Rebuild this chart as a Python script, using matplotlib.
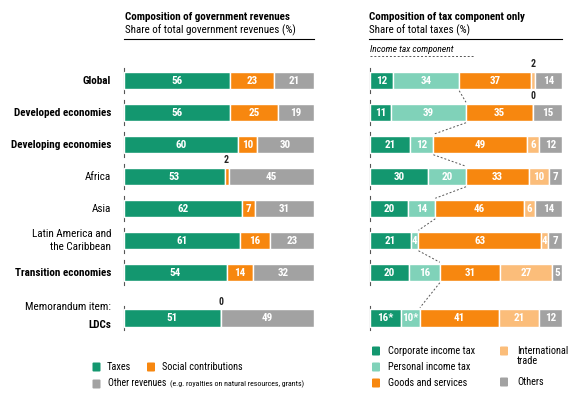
import matplotlib
matplotlib.use("Agg")
import matplotlib.pyplot as plt
from matplotlib.patches import FancyBboxPatch
import numpy as np

plt.rcParams['font.family'] = ['Roboto Condensed', 'Encode Sans Condensed', 'DejaVu Sans']

categories = ["Global", "Developed economies", "Developing economies", "Africa", "Asia",
              "Latin America and\nthe Caribbean", "Transition economies", "Memorandum item:\nLDCs"]
bold_cat = [True, True, True, False, False, False, True, None]

# Left panel: composition of government revenues
taxes = [56, 56, 60, 53, 62, 61, 54, 51]
social = [23, 25, 10, 2, 7, 16, 14, 0]
other_rev = [21, 19, 30, 45, 31, 23, 32, 49]

# Right panel: composition of tax component only
cit = [12, 11, 21, 30, 20, 21, 20, 16]
pit = [34, 39, 12, 20, 14, 4, 16, 10]
goods = [37, 35, 49, 33, 46, 63, 31, 41]
intl = [2, 0, 6, 10, 6, 4, 27, 21]
others = [14, 15, 12, 7, 14, 7, 5, 12]
cit_labels = ["12", "11", "21", "30", "20", "21", "20", "16*"]
pit_labels = ["34", "39", "12", "20", "14", "4", "16", "10*"]

C_GREEN = "#13976f"
C_ORANGE = "#f7870f"
C_GRAY = "#a2a2a2"
C_TEAL = "#80d2b9"
C_LORANGE = "#fbbd7a"

W, H = 579, 398
fig = plt.figure(figsize=(W / 100, H / 100), dpi=100)

ypos = np.array([0, 1, 2, 3, 4, 5, 6, 7.42])
bar_h = 0.54
top_px, bot_px = 60, 340
unit = 32.0
y_top = (top_px - 80.5) / unit
y_bot = (bot_px - 80.5) / unit


def make_ax(x0, x1):
    ax = fig.add_axes([x0 / W, 1 - bot_px / H, (x1 - x0) / W, (bot_px - top_px) / H])
    ax.set_xlim(0, 100)
    ax.set_ylim(y_bot, y_top)
    ax.axis("off")
    return ax


def draw_stack(ax, series, colors, labels_list):
    n = len(series[0])
    totals = np.array([sum(s[i] for s in series) for i in range(n)], dtype=float)
    lefts = np.zeros(n)
    bounds = []
    for k, (s, c) in enumerate(zip(series, colors)):
        w = np.array(s, dtype=float) / totals * 100
        ax.barh(ypos, w, left=lefts, height=bar_h, color=c, edgecolor="white", linewidth=1.0)
        for i in range(n):
            lab = labels_list[k][i] if labels_list[k] is not None else str(s[i])
            cx = lefts[i] + w[i] / 2
            if s[i] <= 2:
                ax.text(cx, ypos[i] - bar_h / 2 - 0.08, lab, ha="center", va="bottom",
                        fontsize=7, fontweight="bold", color="#222222")
            else:
                ax.text(cx, ypos[i], lab, ha="center", va="center", fontsize=8,
                        fontweight="bold", color="white")
        lefts = lefts + w
        bounds.append(lefts.copy())
    for yy in ypos:
        ax.plot([0, 0], [yy - 0.38, yy + 0.38], color="#555555", linewidth=0.8,
                clip_on=False, zorder=0)
    return bounds


axL = make_ax(124, 314)
draw_stack(axL, [taxes, social, other_rev], [C_GREEN, C_ORANGE, C_GRAY], [None, None, None])

axR = make_ax(370, 562)
bounds = draw_stack(axR, [cit, pit, goods, intl, others],
                    [C_GREEN, C_TEAL, C_ORANGE, C_LORANGE, C_GRAY],
                    [cit_labels, pit_labels, None, None, None])
inc = bounds[1]
for i in range(len(ypos) - 1):
    axR.plot([inc[i], inc[i + 1]], [ypos[i] + bar_h / 2 + 0.05, ypos[i + 1] - bar_h / 2 - 0.05],
             color="#555555", linestyle=(0, (2, 2)), linewidth=0.7)

# Category labels
CAT_FS = 8.0
for i, cat in enumerate(categories):
    tr = axL.get_yaxis_transform()
    if i == 7:
        axL.text(-0.068, ypos[i] - 0.35, "Memorandum item:", transform=tr, ha="right",
                 va="center", fontsize=CAT_FS)
        axL.text(-0.068, ypos[i] + 0.22, "LDCs", transform=tr, ha="right", va="center",
                 fontsize=CAT_FS, fontweight="bold")
    else:
        axL.text(-0.068, ypos[i], cat, transform=tr, ha="right", va="center",
                 fontsize=CAT_FS, fontweight="bold" if bold_cat[i] else "normal",
                 linespacing=1.35)


def ftext(x, y, s, **kw):
    fig.text(x / W, 1 - y / H, s, **kw)


def fline(x0, x1, y, **kw):
    fig.add_artist(plt.Line2D([x0 / W, x1 / W], [1 - y / H, 1 - y / H], **kw))


# Titles
TFS = 7.9
ftext(125, 17, "Composition of government revenues", fontsize=TFS, fontweight="bold", va="center")
ftext(125, 30, "Share of total government revenues (%)", fontsize=TFS, va="center")
fline(124, 314, 38.5, color="black", linewidth=0.8)
ftext(369, 17, "Composition of tax component only", fontsize=TFS, fontweight="bold", va="center")
ftext(369, 30, "Share of total taxes (%)", fontsize=TFS, va="center")
fline(369, 562, 38.5, color="black", linewidth=0.8)
ftext(370, 50, "Income tax component", fontsize=6.8, style="italic", va="center")
fline(370, 474, 56, color="#555555", linewidth=0.7, linestyle=(0, (2, 2)))


def legend_sq(x, y, color):
    fig.add_artist(FancyBboxPatch(((x - 4) / W, 1 - (y + 4.5) / H), 8 / W, 9 / H,
                                  boxstyle="round,pad=0,rounding_size=0.002",
                                  facecolor=color, edgecolor="none",
                                  transform=fig.transFigure))


LFS = 7.4
# Left legend
legend_sq(96.5, 367, C_GREEN)
ftext(107, 367, "Taxes", fontsize=LFS, va="center")
legend_sq(151, 367, C_ORANGE)
ftext(162, 367, "Social contributions", fontsize=LFS, va="center")
legend_sq(96.5, 384, C_GRAY)
ftext(108, 383, "Other revenues", fontsize=7.0, va="center")
ftext(170, 384, "(e.g. royalties on natural resources, grants)", fontsize=5.7, va="center")

# Right legend
legend_sq(376, 351, C_GREEN)
ftext(388, 351, "Corporate income tax", fontsize=LFS, va="center")
legend_sq(376, 367, C_TEAL)
ftext(388, 367, "Personal income tax", fontsize=LFS, va="center")
legend_sq(376, 383, C_ORANGE)
ftext(388, 383, "Goods and services", fontsize=LFS, va="center")
legend_sq(504, 351, C_LORANGE)
ftext(517, 351, "International", fontsize=LFS, va="center")
ftext(517, 361, "trade", fontsize=LFS, va="center")
legend_sq(504, 382, C_GRAY)
ftext(517, 382, "Others", fontsize=LFS, va="center")

fig.savefig("out.png", dpi=100)
